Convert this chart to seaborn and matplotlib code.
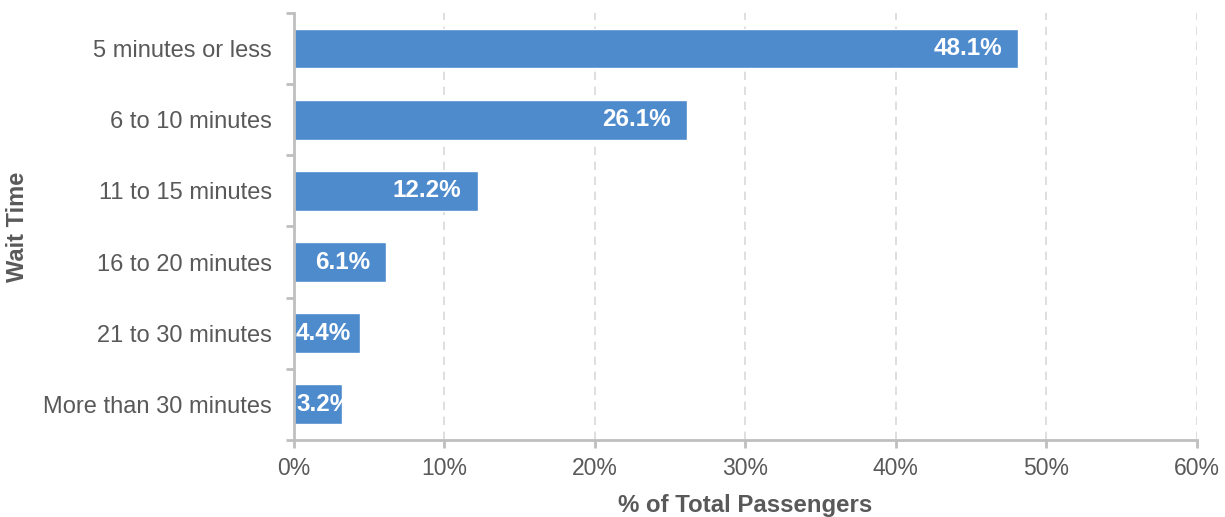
import matplotlib
matplotlib.use("Agg")
import matplotlib.pyplot as plt
import matplotlib.ticker as mticker
import numpy as np
import pandas as pd
import seaborn as sns

# data
categories = ["5 minutes or less", "6 to 10 minutes", "11 to 15 minutes",
              "16 to 20 minutes", "21 to 30 minutes", "More than 30 minutes"]
shares = [48.1, 26.1, 12.2, 6.1, 4.4, 3.2]
x_ticks = [0, 10, 20, 30, 40, 50, 60]

bar_color = "#4e8bcd"
text_grey = "#595959"
axis_grey = "#bfbfbf"

sns.set_theme(style="white")
plt.rcParams["font.family"] = ["Liberation Sans", "DejaVu Sans"]

df = pd.DataFrame({"category": categories, "share": shares})

fig = plt.figure(figsize=(12.25, 5.17), dpi=100)
ax = fig.add_axes([0.24, 0.149, 0.737, 0.826])

sns.barplot(data=df, x="share", y="category", orient="h", color=bar_color,
            saturation=1, width=0.56, ax=ax)

ax.set_xlim(0, 60)
ax.set_ylim(len(categories) - 0.5, -0.5)
ax.set_xticks(x_ticks)
ax.xaxis.set_major_formatter(mticker.FuncFormatter(lambda v, _: f"{v:.0f}%"))

# dashed vertical gridlines
for v in x_ticks[1:]:
    ax.axvline(v, color="#d9d9d9", linestyle=(0, (5, 4)), linewidth=1.2, zorder=0)

# spines
for s in ["top", "right"]:
    ax.spines[s].set_visible(False)
for s in ["left", "bottom"]:
    ax.spines[s].set_color(axis_grey)
    ax.spines[s].set_linewidth(2)

# category boundary ticks on the y axis
ax.set_yticks(np.arange(-0.5, len(categories), 1.0), minor=True)
ax.tick_params(axis="y", which="major", length=0, pad=16, labelsize=17,
               labelcolor=text_grey)
ax.tick_params(axis="y", which="minor", length=6, width=2, color=axis_grey,
               left=True)
ax.tick_params(axis="x", which="major", length=6, width=2, color=axis_grey,
               bottom=True, labelsize=16.5, labelcolor=text_grey, pad=6)

ax.set_xlabel("% of Total Passengers", fontsize=17.3, fontweight="bold",
              color=text_grey, labelpad=10)
ax.set_ylabel("Wait Time", fontsize=17, fontweight="bold", color=text_grey)
ax.yaxis.set_label_coords(-0.2935, 0.5)

# value labels inside the bars
for i, v in enumerate(shares):
    if v >= 5:
        ax.annotate(f"{v:.1f}%", (v, i), xytext=(-11.5, 0), textcoords="offset points",
                    ha="right", va="center", color="white", fontweight="bold",
                    fontsize=17.5)
    else:
        ax.annotate(f"{v:.1f}%", (0, i), xytext=(1.5, 0), textcoords="offset points",
                    ha="left", va="center", color="white", fontweight="bold",
                    fontsize=17.5)

fig.savefig("out.png", dpi=100)
